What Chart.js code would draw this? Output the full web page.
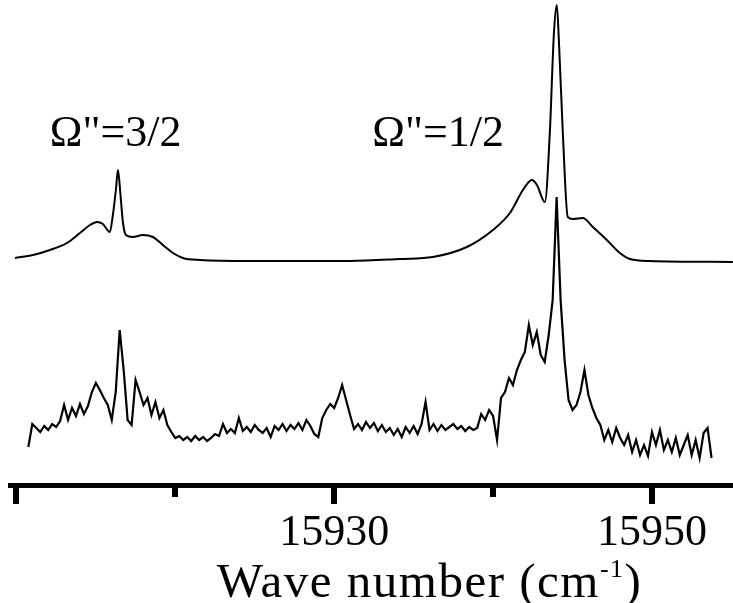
<!DOCTYPE html>
<html>
<head>
<meta charset="utf-8">
<script src="https://cdn.jsdelivr.net/npm/chart.js@4.4.1/dist/chart.umd.min.js"></script>
<style>
  html, body { margin: 0; padding: 0; background: #fff; }
  #wrap { width: 733px; height: 603px; }
</style>
</head>
<body>
<div id="wrap"><canvas id="spectrum" width="733" height="603"></canvas></div>
<script>
// simulated spectrum (upper trace), wavenumber / intensity (a.u.)
const simX = [15909.91, 15911.04, 15912.11, 15913.18, 15914.00, 15914.63, 15915.07, 15915.44,
    15915.88, 15916.07, 15916.26, 15916.39, 15916.55, 15916.70, 15916.89, 15917.33, 15917.96,
    15918.59, 15919.22, 15919.85, 15920.48, 15921.55, 15924.70, 15927.84, 15930.99, 15934.14,
    15936.21, 15938.35, 15939.99, 15941.06, 15941.88, 15942.44, 15942.76, 15943.26, 15943.57,
    15943.83, 15944.01, 15944.14, 15944.39, 15944.70, 15945.02, 15945.65, 15946.28, 15947.16,
    15947.98, 15948.61, 15949.87, 15955.09];
const simY = [22.7, 23.0, 23.5, 24.2, 25.2, 26.0, 26.3, 26.1,
    25.3, 27.0, 29.5, 31.5, 29.0, 26.3, 25.0, 24.8, 25.0,
    24.8, 24.0, 23.2, 22.7, 22.5, 22.4, 22.4, 22.4, 22.6,
    22.8, 23.8, 25.5, 27.2, 29.5, 30.5, 30.0, 28.3, 35.2,
    45.2, 48.0, 44.5, 35.2, 26.8, 26.6, 26.7, 25.8, 24.5,
    23.2, 22.6, 22.4, 22.3];

// measured spectrum (lower trace), sampled every 0.25 cm-1 from 15910.75
const expStart = 15910.75, expStep = 0.25;
const expY = [
    3.8, 6.1, 5.7, 5.3, 5.9, 5.5, 6.1, 5.8, 6.4, 8.0,
    6.5, 7.7, 6.9, 8.1, 7.1, 7.9, 9.3, 10.2, 9.5, 8.7,
    8.0, 6.5, 9.3, 15.5, 11.5, 6.5, 6.0, 10.5, 9.3, 8.0,
    8.7, 7.0, 8.3, 6.7, 7.5, 6.0, 5.3, 4.7, 4.9, 4.5,
    4.8, 4.4, 4.9, 4.5, 4.8, 4.4, 4.7, 5.1, 4.9, 6.1,
    5.2, 5.6, 5.2, 6.7, 5.4, 5.8, 5.3, 6.0, 5.5, 5.2,
    5.7, 4.8, 5.9, 5.5, 6.1, 5.4, 6.0, 5.6, 6.2, 5.5,
    6.5, 5.9, 5.1, 4.8, 6.7, 7.5, 8.1, 7.7, 8.7, 10.0,
    8.5, 7.0, 5.6, 6.1, 5.5, 6.3, 5.7, 6.2, 5.4, 6.0,
    5.3, 5.7, 5.0, 5.6, 4.8, 5.8, 5.2, 5.9, 5.1, 6.1,
    8.3, 5.5, 6.1, 5.4, 6.0, 5.5, 5.8, 6.1, 5.6, 5.9,
    5.4, 5.8, 5.5, 5.7, 7.1, 6.5, 7.5, 6.9, 4.5, 8.7,
    9.3, 10.7, 10.0, 11.5, 12.5, 13.3, 16.0, 14.0, 15.3, 13.0,
    12.3, 15.0, 18.5, 28.8, 18.5, 12.5, 8.5, 7.5, 8.0, 9.3,
    11.5, 9.0, 7.7, 6.7, 6.0, 4.5, 5.5, 4.3, 5.7, 4.7,
    4.0, 5.0, 3.3, 4.5, 3.0, 4.0, 2.9, 5.3, 4.0, 5.5,
    3.5, 4.5, 3.3, 4.7, 3.0, 4.0, 5.0, 3.0, 4.5, 2.7,
    5.2, 5.7, 2.7];

const xTicks = [15910, 15920, 15930, 15940, 15950];
const xLabels = ["", "", "15930", "", "15950"];
const longTicks = [15910, 15930, 15950];

// band labels: text, wavenumber of left edge, intensity of baseline
const bandText = ['\u03A9"=3/2', '\u03A9"=1/2'];
const bandX = [15912.1, 15932.4];
const bandY = [33.9, 33.9];

const serif = "'Liberation Serif', 'DejaVu Serif', serif";

const simData = simX.map((x, i) => ({ x: x, y: simY[i] }));
const expData = expY.map((y, i) => ({ x: expStart + i * expStep, y: y }));

const axisPlugin = {
    id: 'axisPlugin',
    afterDraw(chart) {
        const ctx = chart.ctx;
        const xs = chart.scales.x;
        const ys = chart.scales.y;
        const y0 = chart.chartArea.bottom;
        ctx.save();
        ctx.fillStyle = '#000';
        // axis line
        ctx.fillRect(chart.chartArea.left, y0 - 2, chart.chartArea.right - chart.chartArea.left, 5);
        // tick marks
        xTicks.forEach(v => {
            const px = Math.round(xs.getPixelForValue(v));
            const len = longTicks.includes(v) ? 19 : 12;
            ctx.fillRect(px - 3, y0, 6, len);
        });
        // band labels
        ctx.font = "44px " + serif;
        ctx.textAlign = 'left';
        ctx.textBaseline = 'alphabetic';
        bandText.forEach((t, i) => {
            ctx.fillText(t, xs.getPixelForValue(bandX[i]), ys.getPixelForValue(bandY[i]));
        });
        // axis title with superscript
        const main = 'Wave number (cm', sup = '-1', tail = ')';
        const big = "49px " + serif, small = "26px " + serif;
        ctx.letterSpacing = '1.5px';
        ctx.font = big;
        const w1 = ctx.measureText(main).width, w3 = ctx.measureText(tail).width;
        ctx.font = small;
        const w2 = ctx.measureText(sup).width;
        const cx = xs.getPixelForValue(15936.0);
        let tx = cx - (w1 + w2 + w3) / 2;
        const base = chart.height - 6;
        ctx.font = big;
        ctx.fillText(main, tx, base);
        ctx.font = small;
        ctx.fillText(sup, tx + w1, base - 20);
        ctx.font = big;
        ctx.fillText(tail, tx + w1 + w2, base);
        ctx.restore();
    }
};

new Chart(document.getElementById('spectrum'), {
    type: 'line',
    data: {
        datasets: [
            {
                label: 'simulated',
                data: simData,
                borderColor: '#000',
                borderWidth: 2,
                pointRadius: 0,
                cubicInterpolationMode: 'monotone',
                clip: false
            },
            {
                label: 'measured',
                data: expData,
                borderColor: '#000',
                borderWidth: 2.2,
                pointRadius: 0,
                tension: 0,
                clip: false
            }
        ]
    },
    options: {
        responsive: false,
        animation: false,
        devicePixelRatio: 1,
        layout: { padding: { left: 8, right: 0, top: 0, bottom: 0 } },
        plugins: { legend: { display: false }, tooltip: { enabled: false } },
        scales: {
            x: {
                type: 'linear',
                min: 15909.47,
                max: 15955.1,
                afterBuildTicks: s => { s.ticks = xTicks.map(v => ({ value: v })); },
                afterFit: s => { s.height = 118; s.paddingLeft = 0; s.paddingRight = 0; },
                grid: { display: false, drawTicks: false },
                border: { display: false },
                ticks: {
                    color: '#000',
                    padding: 22,
                    maxRotation: 0,
                    autoSkip: false,
                    font: { family: serif, size: 44 },
                    callback: (v) => xLabels[xTicks.indexOf(v)] || ''
                },
                title: { display: false }
            },
            y: {
                display: false,
                min: 0,
                max: 48.5
            }
        }
    },
    plugins: [axisPlugin]
});
</script>
</body>
</html>
